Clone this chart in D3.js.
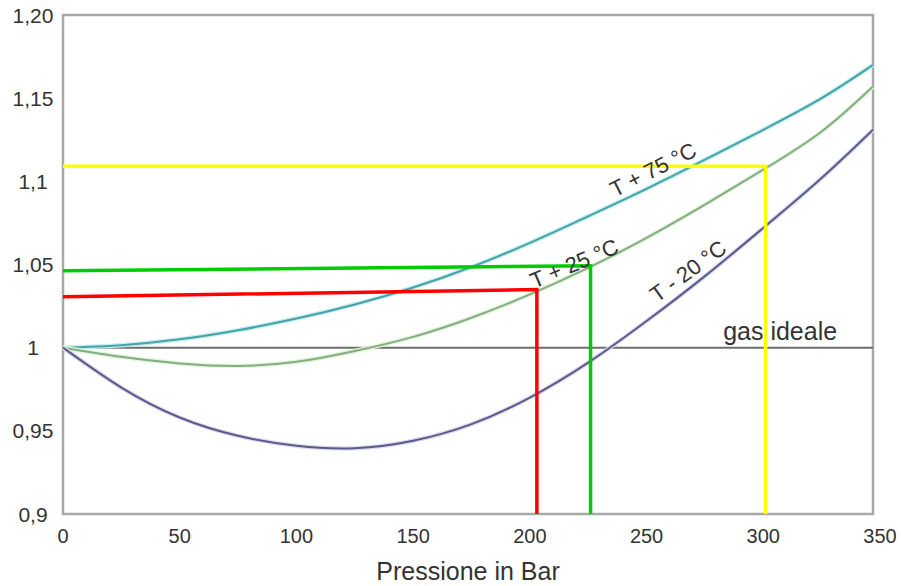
<!DOCTYPE html>
<html>
<head>
<meta charset="utf-8">
<script src="https://cdn.jsdelivr.net/npm/d3@7"></script>
<style>
  body { margin: 0; background: #fff; }
  text { font-family: "Liberation Sans", Arial, sans-serif; fill: #333; }
</style>
</head>
<body>
<div id="chart"></div>
<script>
// Pressure samples (bar)
const pressure = [0, 25, 50, 75, 100, 125, 150, 175, 200, 225, 250, 275, 300, 325, 347];

// compressibility factor Z for each temperature
const zT75 = [1.000, 1.0015, 1.005, 1.0105, 1.0175, 1.026, 1.0362, 1.0485, 1.063, 1.079, 1.0955, 1.113, 1.131, 1.150, 1.170];
const zT25 = [1.000, 0.9945, 0.9905, 0.989, 0.9915, 0.998, 1.0065, 1.018, 1.032, 1.048, 1.066, 1.086, 1.107, 1.130, 1.157];
const zTm20 = [1.000, 0.976, 0.958, 0.947, 0.941, 0.9395, 0.944, 0.954, 0.970, 0.991, 1.016, 1.043, 1.072, 1.102, 1.131];

const idealGas = [[0, 1.0], [347, 1.0]];

// hand-drawn reading lines (pressure, Z)
const redGuide = [[0, 1.0306], [203, 1.0349], [203, 0.9]];
const greenGuide = [[0, 1.0462], [226, 1.0492], [226, 0.9]];
const yellowGuide = [[0, 1.109], [301, 1.109], [301, 0.9]];

const xTicks = [0, 50, 100, 150, 200, 250, 300, 350];
const yTicks = [0.9, 0.95, 1.0, 1.05, 1.1, 1.15, 1.2];
const yTickLabels = ["0,9", "0,95", "1", "1,05", "1,1", "1,15", "1,20"];

// curve labels: text, pressure, Z, angle
const curveLabels = [
    ["T + 75 °C", 252.8, 1.107, -27],
    ["T + 25 °C", 219, 1.0505, -23],
    ["T - 20 °C", 267.8, 1.046, -36]
];

const width = 901;
const height = 586;
const plotLeft = 63, plotRight = 873, plotTop = 15, plotBottom = 514;

const x = d3.scaleLinear().domain([0, 350]).range([63, 880]);
const y = d3.scaleLinear().domain([0.9, 1.2]).range([plotBottom, plotTop]);

const svg = d3.select("#chart")
    .append("svg")
    .attr("width", width)
    .attr("height", height)
    .attr("viewBox", [0, 0, width, height]);

// frame
svg.append("rect")
    .attr("x", plotLeft)
    .attr("y", plotTop)
    .attr("width", plotRight - plotLeft)
    .attr("height", plotBottom - plotTop)
    .attr("fill", "none")
    .attr("stroke", "#a8a8a8")
    .attr("stroke-width", 2.5);

// ideal gas line
const line = d3.line().x(d => x(d[0])).y(d => y(d[1]));
svg.append("path")
    .attr("d", line(idealGas))
    .attr("fill", "none")
    .attr("stroke", "#6e6e6e")
    .attr("stroke-width", 2);

// curves
const curve = d3.line()
    .curve(d3.curveNatural)
    .x((d, i) => x(pressure[i]))
    .y(d => y(d));

const series = [
    { values: zT75, color: "#46a2a6", halo: "#c4eef0" },
    { values: zT25, color: "#84ac86", halo: "#e2f5d8" },
    { values: zTm20, color: "#5a5a8a", halo: "#dcdcee" }
];

series.forEach(s => {
    svg.append("path")
        .attr("d", curve(s.values))
        .attr("fill", "none")
        .attr("stroke", s.halo)
        .attr("stroke-width", 4.5);
    svg.append("path")
        .attr("d", curve(s.values))
        .attr("fill", "none")
        .attr("stroke", s.color)
        .attr("stroke-width", 2);
});

// reading guides
[[redGuide, "#ff0000"], [greenGuide, "#00cc00"], [yellowGuide, "#ffff00"]].forEach(([g, c]) => {
    svg.append("path")
        .attr("d", line(g))
        .attr("fill", "none")
        .attr("stroke", c)
        .attr("stroke-width", 3.5);
});

// curve labels
svg.selectAll("text.curve-label")
    .data(curveLabels)
    .join("text")
    .attr("class", "curve-label")
    .attr("transform", d => `translate(${x(d[1])},${y(d[2])}) rotate(${d[3]})`)
    .attr("text-anchor", "middle")
    .attr("dominant-baseline", "central")
    .attr("font-size", 22)
    .text(d => d[0]);

svg.append("text")
    .attr("x", x(282.8))
    .attr("y", y(1.0048))
    .attr("font-size", 25)
    .text("gas ideale");

// axis labels
svg.selectAll("text.xtick")
    .data(xTicks)
    .join("text")
    .attr("class", "xtick")
    .attr("x", d => x(d))
    .attr("y", plotBottom + 29)
    .attr("text-anchor", "middle")
    .attr("font-size", 20)
    .text(d => d);

svg.selectAll("text.ytick")
    .data(yTicks)
    .join("text")
    .attr("class", "ytick")
    .attr("x", 33)
    .attr("y", d => y(d))
    .attr("dy", "0.36em")
    .attr("text-anchor", "middle")
    .attr("font-size", 21)
    .text((d, i) => yTickLabels[i]);

svg.append("text")
    .attr("x", (plotLeft + plotRight) / 2)
    .attr("y", 580)
    .attr("text-anchor", "middle")
    .attr("font-size", 25)
    .text("Pressione in Bar");
</script>
</body>
</html>
